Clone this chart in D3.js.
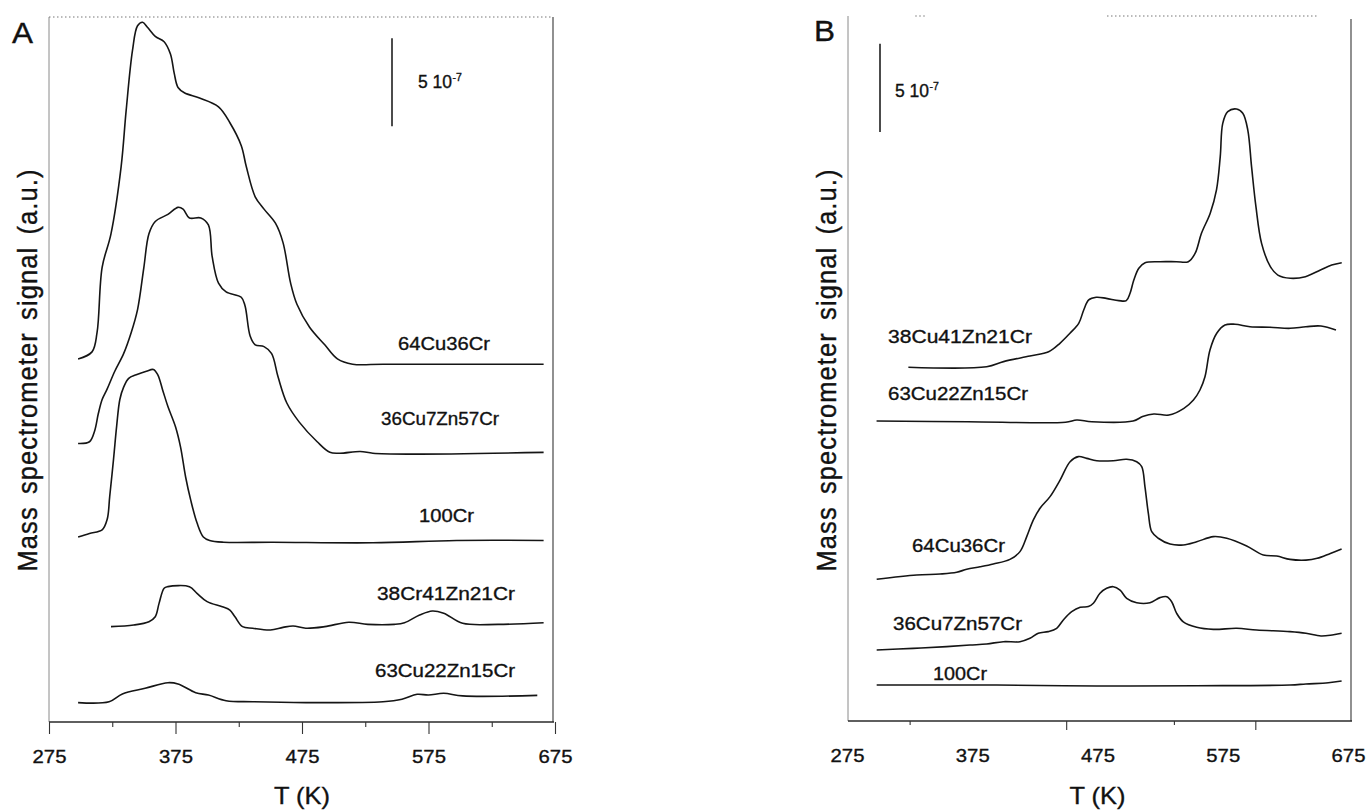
<!DOCTYPE html>
<html>
<head>
<meta charset="utf-8">
<script src="https://cdn.jsdelivr.net/npm/d3@7"></script>
<style>
  body { margin: 0; background: #fff; }
  svg { display: block; }
  text { font-family: "Liberation Sans", Arial, Helvetica, sans-serif; fill: #111; stroke: #111; stroke-width: 0.35px; }
</style>
</head>
<body>
<svg id="chart" width="1369" height="810"></svg>
<script>
// ---- Temperature axis ----
const tempTicks = [275, 375, 475, 575, 675];
const minorTicksA = [325, 425, 525, 625];
const majorTicksB = [450, 601];
const minorTicksB = [325, 536];

// ---- Panel A: TPD traces (signal in units of 1e-7, stacked) ----
const a64Cu36Cr_T = [298, 309, 313, 317, 324, 332, 336, 341, 345, 349, 353, 359, 366, 371, 374, 377, 382, 394, 409, 418, 427, 431, 438, 445, 454, 460, 466, 471, 481, 493, 503, 515, 539, 599, 666];
const a64Cu36Cr_S = [20.6, 21.0, 22.1, 25.8, 27.7, 31.5, 34.7, 38.1, 39.5, 39.7, 39.4, 38.9, 38.6, 37.9, 36.8, 36.0, 35.7, 35.4, 34.9, 34.0, 32.7, 31.5, 29.8, 29.1, 28.3, 27.2, 24.9, 23.7, 22.4, 21.4, 20.6, 20.3, 20.3, 20.3, 20.3];

const a36Cu7Zn57Cr_T = [298, 307, 311, 314, 317, 321, 327, 334, 340, 345, 350, 354, 359, 369, 377, 381, 386, 395, 401, 404, 409, 415, 427, 430, 434, 438, 445, 451, 456, 463, 473, 487, 497, 505, 521, 531, 558, 666];
const a36Cu7Zn57Cr_S = [15.8, 15.9, 16.5, 17.5, 18.3, 18.9, 19.9, 20.9, 22.1, 23.4, 25.8, 27.7, 28.4, 28.8, 29.2, 29.1, 28.6, 28.6, 28.2, 26.4, 24.9, 24.4, 24.1, 23.6, 21.9, 21.4, 21.3, 20.9, 19.6, 18.1, 17.0, 15.9, 15.3, 15.25, 15.35, 15.25, 15.2, 15.3];

const a100Cr_T = [298, 307, 317, 321, 323, 326, 328.5, 331, 334, 338, 344, 352, 357.5, 361, 365, 369, 375, 379, 383, 387, 392, 397, 402, 413, 452, 531, 597, 666];
const a100Cr_S = [10.5, 10.7, 10.9, 11.5, 12.8, 14.9, 16.8, 18.3, 19.0, 19.5, 19.7, 19.9, 20.0, 19.7, 18.8, 17.9, 16.75, 15.6, 13.9, 12.6, 11.3, 10.5, 10.3, 10.2, 10.2, 10.17, 10.3, 10.3];

const a38Cr41Zn21Cr_T = [324, 342, 354, 359, 362, 366, 369, 386, 392, 400, 412, 418, 422, 428, 436, 450, 460, 468, 478, 493, 512, 527, 548, 556, 568, 578, 587, 602, 630, 666];
const a38Cr41Zn21Cr_S = [5.41, 5.50, 5.69, 5.97, 6.73, 7.59, 7.68, 7.68, 7.30, 6.83, 6.54, 6.35, 5.97, 5.41, 5.32, 5.22, 5.37, 5.45, 5.32, 5.41, 5.66, 5.54, 5.54, 5.63, 6.07, 6.30, 6.17, 5.60, 5.54, 5.63];

const a63Cu22Zn15Cr_T = [298, 322.5, 333, 351, 369, 377, 391, 401, 415, 436, 478, 539, 554, 566, 575, 587, 602, 661];
const a63Cu22Zn15Cr_S = [1.10, 1.15, 1.59, 1.91, 2.23, 2.16, 1.66, 1.53, 1.21, 1.15, 1.10, 1.15, 1.29, 1.57, 1.53, 1.63, 1.48, 1.51];

// ---- Panel B ----
const b38Cu41Zn21Cr_T = [324, 386.5, 400, 421, 436, 445, 453, 460, 464, 468, 474, 482, 492, 498, 501, 504, 508, 513, 525, 538, 547.5, 553, 558, 565, 570, 573, 575, 579, 586, 591, 595, 598, 601.5, 606, 613, 619, 629, 641, 653, 662, 670];
const b38Cu41Zn21Cr_S = [20.07, 20.10, 20.39, 20.71, 20.95, 21.43, 22.00, 22.56, 23.32, 23.89, 24.04, 23.98, 23.85, 23.85, 24.27, 25.02, 25.69, 26.00, 26.06, 26.06, 26.06, 26.54, 27.67, 28.81, 30.13, 32.02, 33.91, 34.57, 34.72, 34.48, 33.53, 31.45, 29.18, 27.10, 25.78, 25.30, 25.12, 25.21, 25.59, 25.87, 26.00];

const b63Cu22Zn15Cr_T = [298.6, 371.4, 449.5, 458.5, 470.5, 503.4, 511, 520, 532, 544, 551.6, 556.8, 560.8, 564.8, 570.2, 576.8, 584.8, 596.8, 612.7, 628.7, 641.4, 653.4, 665.4];
const b63Cu22Zn15Cr_S = [17.02, 16.98, 16.95, 17.08, 16.98, 17.02, 17.27, 17.42, 17.36, 17.74, 18.21, 18.78, 19.53, 21.05, 22.00, 22.47, 22.51, 22.37, 22.34, 22.28, 22.37, 22.41, 22.18];

const b64Cu36Cr_T = [298.7, 330.6, 349.3, 362.6, 370.6, 381.2, 391.8, 405.1, 413.1, 418.5, 423.7, 429.1, 437.1, 445.1, 453.1, 459.7, 466.4, 474.4, 487.6, 498.3, 506.3, 510.3, 512.9, 515.6, 518.3, 523.5, 532.9, 543.5, 554.2, 567.5, 578.2, 594.1, 607.4, 618.1, 628.7, 641.4, 650.4, 660.9, 669.9];
const b64Cu36Cr_S = [8.04, 8.28, 8.34, 8.44, 8.61, 8.75, 8.91, 9.17, 9.61, 10.46, 11.40, 12.07, 12.73, 13.67, 14.71, 15.00, 14.90, 14.77, 14.77, 14.85, 14.71, 14.43, 13.29, 11.78, 10.74, 10.37, 10.04, 9.99, 10.17, 10.46, 10.37, 9.93, 9.42, 9.36, 9.17, 9.13, 9.23, 9.51, 9.76];

const b36Cu7Zn57Cr_T = [298.7, 327.9, 354.6, 373.2, 386.5, 399.8, 413.1, 421.1, 427.7, 435.7, 442.4, 447.7, 454.4, 461.2, 467.7, 471.7, 477, 482.3, 487.6, 493, 498.3, 506.3, 516.9, 524.9, 530.3, 534.2, 538.2, 543.5, 554.2, 567.5, 586.1, 602.1, 628.7, 641.4, 653.4, 662.4, 669.9];
const b36Cu7Zn57Cr_S = [4.03, 4.12, 4.22, 4.31, 4.37, 4.50, 4.50, 4.69, 4.98, 5.07, 5.26, 5.73, 6.20, 6.45, 6.49, 6.68, 7.25, 7.53, 7.62, 7.43, 6.96, 6.71, 6.71, 7.00, 7.05, 6.77, 6.11, 5.63, 5.32, 5.20, 5.26, 5.16, 5.07, 4.98, 4.82, 4.88, 4.98];

const b100Cr_T = [298.7, 394.6, 474.4, 554.2, 628.7, 641.4, 659.3, 669.9];
const b100Cr_S = [2.04, 2.04, 1.99, 2.00, 2.04, 2.10, 2.17, 2.27];

// ---- Series names ----
const namesA = ["64Cu36Cr", "36Cu7Zn57Cr", "100Cr", "38Cr41Zn21Cr", "63Cu22Zn15Cr"];
const namesB = ["38Cu41Zn21Cr", "63Cu22Zn15Cr", "64Cu36Cr", "36Cu7Zn57Cr", "100Cr"];
const scaleBarValue = 5; // 5 x 10^-7

// ---- Layout ----
const svg = d3.select("#chart");

const panels = [
  {
    key: "A",
    x: d3.scaleLinear().domain([275, 675]).range([49, 555]),
    y: d3.scaleLinear().domain([0, 40]).range([722, 17]),
    frame: { l: 49, r: 553, t: 17, b: 722 },
    series: [
      [a64Cu36Cr_T, a64Cu36Cr_S], [a36Cu7Zn57Cr_T, a36Cu7Zn57Cr_S], [a100Cr_T, a100Cr_S],
      [a38Cr41Zn21Cr_T, a38Cr41Zn21Cr_S], [a63Cu22Zn15Cr_T, a63Cu22Zn15Cr_S]
    ],
    names: namesA,
    // label left x, baseline y, drawn width
    labels: [[398, 350, 92], [381, 425, 118], [419, 522, 55], [377, 600, 138], [375, 677, 140]],
    majors: tempTicks, minors: minorTicksA, majorLen: 12, minorLen: 5,
    bar: { x: 392, base: 33.8 },
    barText: { x: 418, y: 88 },
    letter: { x: 12, y: 43 },
    ylabelX: 37
  },
  {
    key: "B",
    x: d3.scaleLinear().domain([275, 675]).range([847, 1348]),
    y: d3.scaleLinear().domain([0, 40]).range([721, 16]),
    frame: { l: 848, r: 1351, t: 16, b: 721 },
    series: [
      [b38Cu41Zn21Cr_T, b38Cu41Zn21Cr_S], [b63Cu22Zn15Cr_T, b63Cu22Zn15Cr_S], [b64Cu36Cr_T, b64Cu36Cr_S],
      [b36Cu7Zn57Cr_T, b36Cu7Zn57Cr_S], [b100Cr_T, b100Cr_S]
    ],
    names: namesB,
    labels: [[888, 343, 144], [888, 400, 140], [912, 552, 93], [893, 630, 129], [933, 680, 54]],
    majors: majorTicksB, minors: minorTicksB, majorLen: 9, minorLen: 4,
    bar: { x: 880, base: 33.42 },
    barText: { x: 895, y: 97 },
    letter: { x: 814, y: 41 },
    ylabelX: 836
  }
];

panels.forEach(p => {
  const g = svg.append("g").attr("class", "panel-" + p.key);
  const f = p.frame;

  // frame
  g.append("line").attr("x1", f.l).attr("x2", f.l).attr("y1", f.t).attr("y2", f.b)
    .attr("stroke", "#8a8a8a").attr("stroke-width", 1);
  g.append("line").attr("x1", f.r).attr("x2", f.r).attr("y1", f.t + (p.key === "B" ? 3 : 0)).attr("y2", f.b)
    .attr("stroke", "#555").attr("stroke-width", 1.3);
  g.append("line").attr("x1", f.l).attr("x2", f.r + 1).attr("y1", f.b).attr("y2", f.b)
    .attr("stroke", "#2a2a2a").attr("stroke-width", 1.4);
  if (p.key === "A") {
    g.append("line").attr("x1", f.l).attr("x2", f.r).attr("y1", f.t).attr("y2", f.t)
      .attr("stroke", "#777").attr("stroke-width", 1).attr("stroke-dasharray", "1.5,2.5");
  } else {
    g.append("line").attr("x1", 1107).attr("x2", 1319).attr("y1", f.t).attr("y2", f.t)
      .attr("stroke", "#777").attr("stroke-width", 1).attr("stroke-dasharray", "1.5,2.5");
    g.append("line").attr("x1", 915).attr("x2", 926).attr("y1", f.t).attr("y2", f.t)
      .attr("stroke", "#999").attr("stroke-width", 1).attr("stroke-dasharray", "2,2");
  }

  // ticks
  const tickStyle = sel => {
    sel.select(".domain").remove();
    sel.selectAll(".tick line").attr("stroke", "#333").attr("stroke-width", 1.1);
  };
  g.append("g").attr("transform", `translate(0,${f.b})`)
    .call(d3.axisBottom(p.x).tickValues(p.majors).tickSize(p.majorLen).tickFormat(""))
    .call(tickStyle);
  g.append("g").attr("transform", `translate(0,${f.b})`)
    .call(d3.axisBottom(p.x).tickValues(p.minors).tickSize(p.minorLen).tickFormat(""))
    .call(tickStyle);

  // tick labels
  const lab = g.append("g").attr("transform", `translate(0,${f.b})`)
    .call(d3.axisBottom(p.x).tickValues(tempTicks).tickSize(0).tickPadding(28).tickFormat(d3.format("d")));
  lab.select(".domain").remove();
  lab.selectAll(".tick text")
    .attr("font-size", "18.8px")
    .attr("font-family", '"Liberation Sans", Arial, sans-serif')
    .attr("fill", "#111")
    .attr("transform", "scale(1.08,1)");

  // axis title
  g.append("text")
    .attr("x", p.x(475)).attr("y", 804)
    .attr("text-anchor", "middle")
    .attr("font-size", "24px")
    .attr("stroke-width", 0.5)
    .attr("textLength", 56).attr("lengthAdjust", "spacingAndGlyphs")
    .text("T (K)");

  // y title
  g.append("text")
    .attr("transform", `translate(${p.ylabelX},370) scale(1.12,1) rotate(-90)`)
    .attr("text-anchor", "middle")
    .attr("font-size", "25.5px")
    .attr("stroke-width", 0.5)
    .attr("letter-spacing", "1.1px")
    .attr("word-spacing", "4px")
    .text("Mass spectrometer signal (a.u.)");

  // panel letter
  g.append("text")
    .attr("x", p.letter.x).attr("y", p.letter.y)
    .attr("font-size", "29px")
    .attr("stroke-width", 0.9)
    .attr("textLength", 21).attr("lengthAdjust", "spacingAndGlyphs")
    .text(p.key);

  // scale bar: 5 x 10^-7
  g.append("line")
    .attr("x1", p.bar.x).attr("x2", p.bar.x)
    .attr("y1", p.y(p.bar.base)).attr("y2", p.y(p.bar.base + scaleBarValue))
    .attr("stroke", "#111").attr("stroke-width", 1.5);
  const bt = g.append("text")
    .attr("x", p.barText.x).attr("y", p.barText.y)
    .attr("font-size", "17.5px")
    .attr("xml:space", "preserve");
  bt.append("tspan").text("5 10");
  bt.append("tspan").attr("font-size", "10.5px").attr("dy", "-7").attr("dx", "0.5").text("-7");

  // traces
  const line = d3.line()
    .x(d => p.x(d[0]))
    .y(d => p.y(d[1]))
    .curve(d3.curveCatmullRom.alpha(0.5));
  p.series.forEach(([T, S]) => {
    const pts = T.map((t, i) => [t, S[i]]);
    g.append("path")
      .datum(pts)
      .attr("d", line)
      .attr("fill", "none")
      .attr("stroke", "#151515")
      .attr("stroke-width", 1.6)
      .attr("stroke-linejoin", "round");
  });

  // trace labels
  p.names.forEach((name, i) => {
    const [lx, ly, lw] = p.labels[i];
    g.append("text")
      .attr("x", lx).attr("y", ly)
      .attr("font-size", "18.5px")
      .attr("textLength", lw).attr("lengthAdjust", "spacingAndGlyphs")
      .text(name);
  });
});
</script>
</body>
</html>
